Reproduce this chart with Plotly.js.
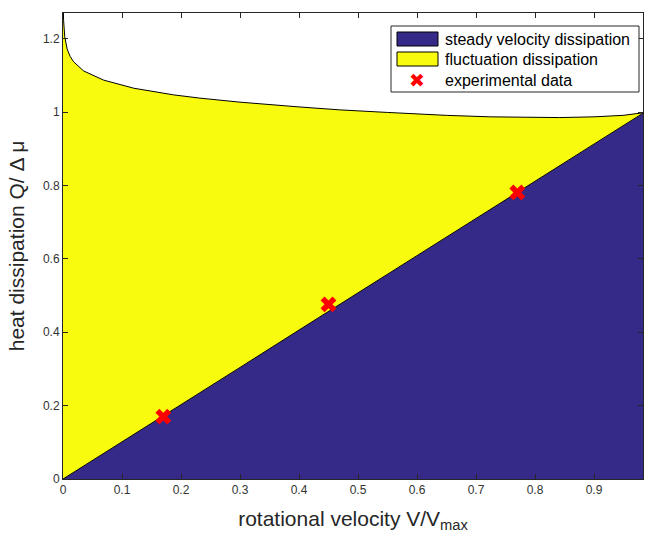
<!DOCTYPE html>
<html>
<head>
<meta charset="utf-8">
<script src="https://cdn.plot.ly/plotly-3.0.1.min.js"></script>
<style>
  html, body { margin: 0; padding: 0; background: #fff; }
  #chart { width: 647px; height: 536px; }
</style>
</head>
<body>
<div id="chart"></div>
<script>
// Rotational velocity grid (V/Vmax)
const velocity = [0, 0.001, 0.003, 0.007, 0.012, 0.018, 0.035, 0.069, 0.12, 0.187, 0.232, 0.3, 0.4, 0.469, 0.55, 0.605, 0.65, 0.724, 0.8, 0.842, 0.9, 0.949, 0.983];
// Dissipation from the steady velocity (lower boundary)
const steadyDissipation = [0, 0.001, 0.003, 0.007, 0.012, 0.018, 0.035, 0.070, 0.122, 0.190, 0.235, 0.304, 0.406, 0.476, 0.558, 0.613, 0.659, 0.734, 0.811, 0.854, 0.913, 0.962, 0.997];
// Total dissipation (upper boundary = steady + fluctuation)
const totalDissipation = [1.32, 1.25, 1.205, 1.172, 1.152, 1.137, 1.112, 1.087, 1.065, 1.047, 1.038, 1.027, 1.014, 1.006, 0.999, 0.994, 0.991, 0.987, 0.985, 0.985, 0.987, 0.991, 0.998];
// Measured points
const expVelocity = [0.17, 0.45, 0.77];
const expDissipation = [0.17, 0.476, 0.781];

const xTicks = [0, 0.1, 0.2, 0.3, 0.4, 0.5, 0.6, 0.7, 0.8, 0.9];
const xTickText = ['0', '0.1', '0.2', '0.3', '0.4', '0.5', '0.6', '0.7', '0.8', '0.9'];
const yTicks = [0, 0.2, 0.4, 0.6, 0.8, 1, 1.2];
const yTickText = ['0', '0.2', '0.4', '0.6', '0.8', '1', '1.2'];

const legendLabels = ['steady velocity dissipation', 'fluctuation dissipation', 'experimental data'];

const BLUE = '#352a87';
const YELLOW = '#f9fb0e';
const RED = '#ff0000';
const FONT = 'Liberation Sans, Arial, Helvetica, sans-serif';

// Figure geometry
const W = 647, H = 536;
const M = { l: 63, r: 4, t: 13, b: 57 };
const plotW = W - M.l - M.r, plotH = H - M.t - M.b;
// pixel -> paper coordinates (for the boxed legend)
const px = X => (X - M.l) / plotW;
const py = Y => (H - M.b - Y) / plotH;

const traces = [
  {
    x: velocity, y: steadyDissipation,
    type: 'scatter', mode: 'lines', showlegend: false,
    name: legendLabels[0],
    fill: 'tozeroy', fillcolor: BLUE,
    line: { color: '#000', width: 1 }
  },
  {
    x: velocity, y: totalDissipation,
    type: 'scatter', mode: 'lines', showlegend: false,
    name: legendLabels[1],
    fill: 'tonexty', fillcolor: YELLOW,
    line: { color: '#000', width: 1 }
  },
  {
    x: expVelocity, y: expDissipation,
    type: 'scatter', mode: 'markers', showlegend: false,
    name: legendLabels[2],
    marker: { symbol: 'x', size: 14, color: RED, line: { width: 0 } }
  }
];

// Boxed legend: frame, two patch swatches, one marker glyph, three labels
const shapes = [
  { type: 'rect', xref: 'paper', yref: 'paper', x0: px(391), x1: px(639), y0: py(92), y1: py(26),
    fillcolor: '#fff', line: { color: '#262626', width: 1 } },
  { type: 'rect', xref: 'paper', yref: 'paper', x0: px(397), x1: px(438), y0: py(46), y1: py(32),
    fillcolor: BLUE, line: { color: '#000', width: 1 } },
  { type: 'rect', xref: 'paper', yref: 'paper', x0: px(397), x1: px(438), y0: py(66), y1: py(52),
    fillcolor: YELLOW, line: { color: '#000', width: 1 } }
];

const rowsY = [39, 59, 80];
const annotations = legendLabels.map((t, i) => ({
  text: t, xref: 'paper', yref: 'paper', x: px(443), y: py(rowsY[i]),
  xanchor: 'left', yanchor: 'middle', showarrow: false,
  font: { family: FONT, size: 16, color: '#000' }
}));
annotations.push({
  text: '✖', xref: 'paper', yref: 'paper', x: px(417), y: py(80),
  xanchor: 'center', yanchor: 'middle', showarrow: false,
  font: { family: 'DejaVu Sans', size: 19, color: RED }
});

const axisCommon = {
  showline: true, linecolor: '#262626', linewidth: 1,
  mirror: 'ticks', ticks: 'inside', ticklen: 5, tickcolor: '#262626',
  showgrid: false, zeroline: false,
  tickfont: { family: FONT, size: 12, color: '#333333' }
};

const layout = {
  width: W, height: H,
  margin: M,
  paper_bgcolor: '#fff', plot_bgcolor: '#fff',
  showlegend: false,
  shapes: shapes,
  annotations: annotations,
  xaxis: Object.assign({}, axisCommon, {
    range: [0, 0.983], tickvals: xTicks, ticktext: xTickText,
    title: { text: 'rotational velocity V/V<sub>max</sub>', font: { family: FONT, size: 21, color: '#262626' }, standoff: 14 }
  }),
  yaxis: Object.assign({}, axisCommon, {
    range: [0, 1.27], tickvals: yTicks, ticktext: yTickText,
    title: { text: 'heat dissipation Q/ Δ μ', font: { family: FONT, size: 21, color: '#262626' }, standoff: 12 }
  })
};

Plotly.newPlot('chart', traces, layout, { displayModeBar: false, staticPlot: true });
</script>
</body>
</html>
